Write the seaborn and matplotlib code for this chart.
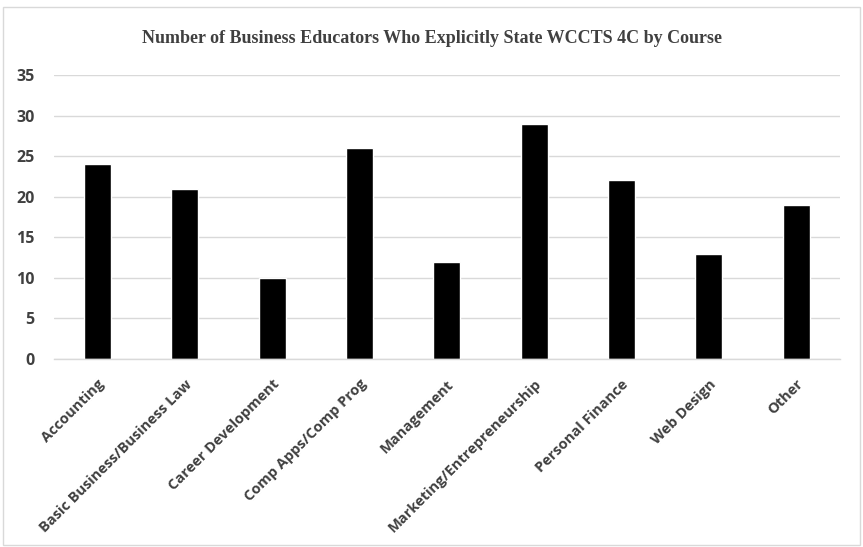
import matplotlib
matplotlib.use("Agg")
import matplotlib.pyplot as plt
import seaborn as sns
import pandas as pd
from matplotlib.patches import Rectangle

courses = ["Accounting", "Basic Business/Business Law", "Career Development",
           "Comp Apps/Comp Prog", "Management", "Marketing/Entrepreneurship",
           "Personal Finance", "Web Design", "Other"]
counts = [24, 21, 10, 26, 12, 29, 22, 13, 19]
yticks = [0, 5, 10, 15, 20, 25, 30, 35]

df = pd.DataFrame({"course": courses, "count": counts})

sns.set_theme(style="white")
plt.rcParams["font.family"] = ["Open Sans", "DejaVu Sans"]

fig = plt.figure(figsize=(8.63, 5.47), dpi=100)
ax = fig.add_axes([0.0625, 0.3437, 0.9105, 0.5192])

sns.barplot(data=df, x="course", y="count", color="black", width=0.31,
            saturation=1, ax=ax)

ax.set_ylim(0, 35)
ax.set_xlim(-0.5, len(courses) - 0.5)
ax.set_yticks(yticks)
ax.yaxis.grid(True, color="#d9d9d9", linewidth=1)
ax.set_axisbelow(True)
for s in ["top", "right", "left"]:
    ax.spines[s].set_visible(False)
ax.spines["bottom"].set_color("#d9d9d9")
ax.spines["bottom"].set_linewidth(1)
ax.tick_params(axis="both", length=0, colors="#404040")
ax.tick_params(axis="y", pad=14)
ax.tick_params(axis="x", pad=13)
ax.set_xlabel("")
ax.set_ylabel("")

for lab in ax.get_yticklabels():
    lab.set_fontsize(11.5)
    lab.set_fontweight("bold")
for lab in ax.get_xticklabels():
    lab.set_fontsize(10.5)
    lab.set_fontweight("bold")
    lab.set_rotation(45)
    lab.set_ha("right")
    lab.set_rotation_mode("anchor")

fig.text(0.5, 0.93, "Number of Business Educators Who Explicitly State WCCTS 4C by Course",
         ha="center", va="center", fontsize=13, fontweight="bold",
         family="Liberation Serif", color="#404040")

fig.patches.append(Rectangle((0.004, 0.004), 0.992, 0.984, transform=fig.transFigure,
                             fill=False, edgecolor="#d9d9d9", linewidth=1))

fig.savefig("out.png", dpi=100)
